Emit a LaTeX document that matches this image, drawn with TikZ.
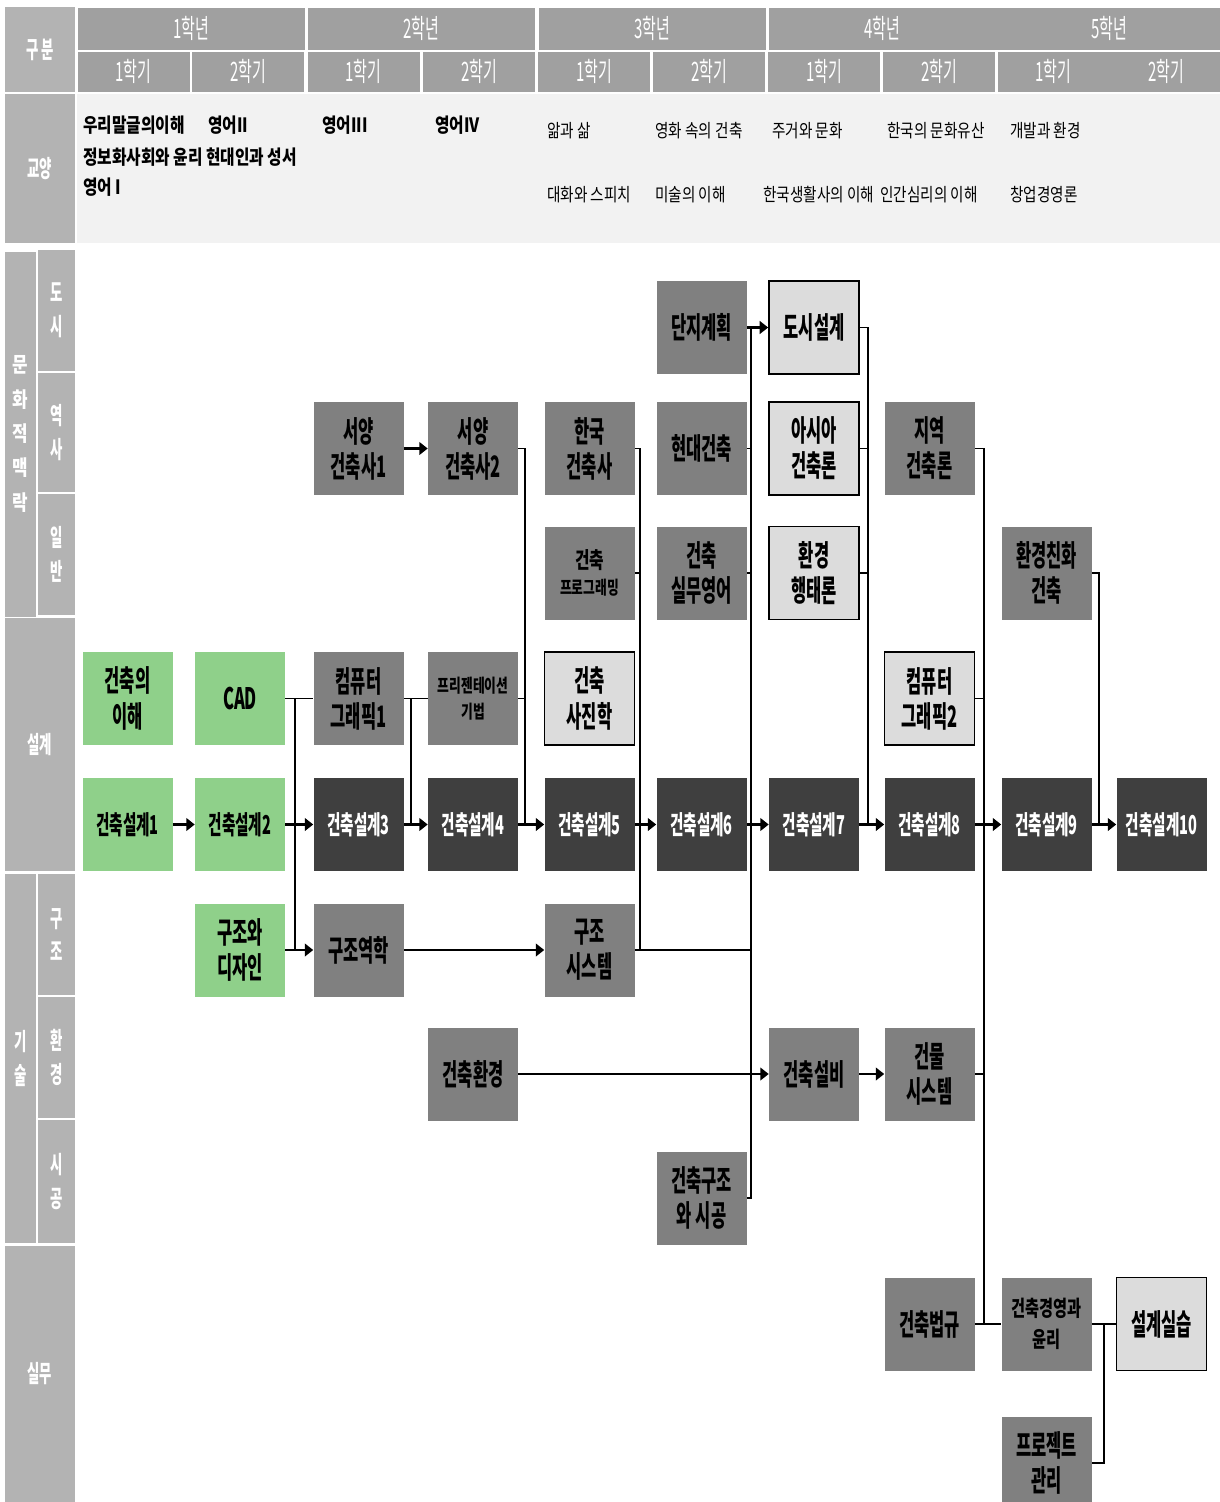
\documentclass[tikz,border=0pt]{standalone}
\usepackage{fontspec}
\newfontfamily\krbox{Noto Sans CJK KR}[FakeStretch=0.56]
\newfontfamily\krmid{Noto Sans CJK KR}[FakeStretch=0.7]
\newfontfamily\krtext{Noto Sans CJK KR}[FakeStretch=0.8]
\usepackage{tikz}
\usetikzlibrary{arrows.meta, positioning}
\newcommand{\pxu}{0.25mm}
\definecolor{boxmid}{HTML}{808080}
\definecolor{boxdark}{HTML}{3F3F3F}
\definecolor{boxlight}{HTML}{DCDCDC}
\definecolor{boxgreen}{HTML}{8FD08A}
\definecolor{headgray}{HTML}{A0A0A0}
\definecolor{sidegray}{HTML}{B3B3B3}
\definecolor{genbg}{HTML}{F2F2F2}
\tikzset{
	course/.style={
			shape=rectangle,
			minimum width=90*\pxu,
			minimum height=93*\pxu,
			inner sep=0pt,
			align=center,
			font=\fontsize{21}{25}\krbox\bfseries
		},
	midcourse/.style={
			course,
			fill=boxmid,
			text=black
		},
	darkcourse/.style={
			course,
			fill=boxdark,
			text=white,
			font=\fontsize{18.5}{22}\krbox\bfseries
		},
	lightcourse/.style={
			course,
			fill=boxlight,
			draw=black,
			line width=1.2pt
		},
	greencourse/.style={
			course,
			fill=boxgreen,
			text=black
		},
	designtext/.style={font=\fontsize{18.5}{22}\krbox\bfseries},
	smallcourse/.style={font=\fontsize{13}{18}\krmid\bfseries},
	mgmtcourse/.style={font=\fontsize{15.5}{22}\krmid\bfseries}
}
\tikzset{
	yearcell/.style={
			shape=rectangle,
			fill=headgray,
			text=white,
			minimum width=227*\pxu,
			minimum height=42*\pxu,
			inner sep=0pt,
			font=\fontsize{19}{22}\krbox
		},
	semcell/.style={
			yearcell,
			minimum width=112*\pxu,
			minimum height=40*\pxu
		},
	sidecell/.style={
			shape=rectangle,
			fill=sidegray,
			text=white,
			inner sep=0pt,
			align=center,
			font=\fontsize{17}{24}\krbox\bfseries
		},
	gentext/.style={
			anchor=west,
			inner sep=0pt,
			font=\fontsize{14}{16}\krtext\bfseries
		},
	gentextlight/.style={
			gentext,
			font=\fontsize{13}{15}\krtext
		},
	arrowline/.style={line width=1.6pt, -{Triangle[length=6pt,width=9pt]}},
	treeline/.style={line width=1.2pt}
}

\begin{document}
\begin{tikzpicture}[x=\pxu, y=-\pxu]
  \useasboundingbox (0,0) rectangle (1220,1502);

  % header
  \node[sidecell, minimum width=70*\pxu, minimum height=85*\pxu] (l0) at (40,49.5) {구 분};
  \node[yearcell] (yr1) at (191.5,28.5) {1학년};
  \node[yearcell] (yr2) at (421.5,28.5) {2학년};
  \node[yearcell] (yr3) at (652,28.5) {3학년};
  \node[yearcell] (yr4) at (882,28.5) {4학년};
  \node[yearcell] (yr5) at (1109,28.5) {5학년};
  \node[semcell] (se1) at (133.5,71.5) {1학기};
  \node[semcell] (se2) at (248,71.5) {2학기};
  \node[semcell] (se3) at (363.5,71.5) {1학기};
  \node[semcell] (se4) at (479,71.5) {2학기};
  \node[semcell] (se5) at (594,71.5) {1학기};
  \node[semcell] (se6) at (709,71.5) {2학기};
  \node[semcell] (se7) at (824,71.5) {1학기};
  \node[semcell] (se8) at (939,71.5) {2학기};
  \node[semcell] (se9) at (1053.5,71.5) {1학기};
  \node[semcell] (se10) at (1166,71.5) {2학기};

  % side labels
  \node[sidecell, minimum width=70*\pxu, minimum height=149*\pxu] (l1) at (40,168.5) {교양};
  \node[sidecell, minimum width=31*\pxu, minimum height=365*\pxu, font=\fontsize{15}{24.5}\krtext\bfseries] (l2) at (20.5,434) {문\\화\\적\\맥\\락};
  \node[sidecell, minimum width=37*\pxu, minimum height=121*\pxu] (l2a) at (56.5,310.5) {도\\시};
  \node[sidecell, minimum width=37*\pxu, minimum height=119*\pxu] (l2b) at (56.5,432.5) {역\\사};
  \node[sidecell, minimum width=37*\pxu, minimum height=121*\pxu] (l2c) at (56.5,554.5) {일\\반};
  \node[sidecell, minimum width=70*\pxu, minimum height=253*\pxu] (l3) at (40,744.5) {설계};
  \node[sidecell, minimum width=31*\pxu, minimum height=369*\pxu] (l4) at (20.5,1058.5) {기\\술};
  \node[sidecell, minimum width=37*\pxu, minimum height=121*\pxu] (l4a) at (56.5,934.5) {구\\조};
  \node[sidecell, minimum width=37*\pxu, minimum height=121*\pxu] (l4b) at (56.5,1057.5) {환\\경};
  \node[sidecell, minimum width=37*\pxu, minimum height=123*\pxu] (l4c) at (56.5,1181.5) {시\\공};
  \node[sidecell, minimum width=70*\pxu, minimum height=256*\pxu] (l5) at (40,1374) {실무};

  % general courses
  \fill[genbg] (77,94) rectangle (1220,243);
  \node[gentext] (g1) at (83,125) {우리말글의이해};
  \node[gentext] (g2) at (208,125) {영어II};
  \node[gentext] (g3) at (83,157) {정보화사회와 윤리 현대인과 성서};
  \node[gentext] (g4) at (83,187) {영어 I};
  \node[gentext] (g5) at (322,125) {영어III};
  \node[gentext] (g6) at (435,125) {영어IV};
  \node[gentextlight] (g7) at (547,131) {앎과 삶};
  \node[gentextlight] (g8) at (547,195) {대화와 스피치};
  \node[gentextlight] (g9) at (655,131) {영화 속의 건축};
  \node[gentextlight] (g10) at (655,195) {미술의 이해};
  \node[gentextlight] (g11) at (772,131) {주거와 문화};
  \node[gentextlight] (g12) at (763,195) {한국생활사의 이해};
  \node[gentextlight] (g13) at (887,131) {한국의 문화유산};
  \node[gentextlight] (g14) at (880,195) {인간심리의 이해};
  \node[gentextlight] (g15) at (1010,131) {개발과 환경};
  \node[gentextlight] (g16) at (1010,195) {창업경영론};

  % cultural context
  \node[midcourse] (dj) at (701.5,327.5) {단지계획};
  \node[lightcourse] (us) at (814,327.5) {도시설계};
  \node[midcourse] (wh1) at (358.5,448.5) {서양\\건축사1};
  \node[midcourse] (wh2) at (473,448.5) {서양\\건축사2};
  \node[midcourse] (kh) at (589.5,448.5) {한국\\건축사};
  \node[midcourse] (md) at (701.5,448.5) {현대건축};
  \node[lightcourse] (aa) at (814,448.5) {아시아\\건축론};
  \node[midcourse] (rg) at (929.5,448.5) {지역\\건축론};
  \node[midcourse, smallcourse] (pg) at (589.5,573) {{\fontsize{16}{20}\selectfont 건축}\\프로그래밍};
  \node[midcourse] (pe) at (701.5,573) {건축\\실무영어};
  \node[lightcourse] (eb) at (814,573) {환경\\행태론};
  \node[midcourse] (ec) at (1046.5,573) {환경친화\\건축};

  % design
  \node[greencourse] (ui) at (127.5,698.5) {건축의\\이해};
  \node[greencourse] (cad) at (240,698.5) {CAD};
  \node[midcourse] (cg1) at (358.5,698.5) {컴퓨터\\그래픽1};
  \node[midcourse, smallcourse] (pt) at (473,698.5) {프리젠테이션\\기법};
  \node[lightcourse] (ph) at (589.5,698.5) {건축\\사진학};
  \node[lightcourse] (cg2) at (929.5,698.5) {컴퓨터\\그래픽2};
  \node[greencourse, designtext] (d1) at (127.5,824.5) {건축설계1};
  \node[greencourse, designtext] (d2) at (240,824.5) {건축설계2};
  \node[darkcourse] (d3) at (358.5,824.5) {건축설계3};
  \node[darkcourse] (d4) at (473,824.5) {건축설계4};
  \node[darkcourse] (d5) at (589.5,824.5) {건축설계5};
  \node[darkcourse] (d6) at (701.5,824.5) {건축설계6};
  \node[darkcourse] (d7) at (814,824.5) {건축설계7};
  \node[darkcourse] (d8) at (929.5,824.5) {건축설계8};
  \node[darkcourse] (d9) at (1046.5,824.5) {건축설계9};
  \node[darkcourse] (d10) at (1161.5,824.5) {건축설계10};

  % technology
  \node[greencourse] (sd) at (240,950) {구조와\\디자인};
  \node[midcourse] (gm) at (358.5,950) {구조역학};
  \node[midcourse] (ss) at (589.5,950) {구조\\시스템};
  \node[midcourse] (en) at (473,1074) {건축환경};
  \node[midcourse] (eq) at (814,1074) {건축설비};
  \node[midcourse] (bsys) at (929.5,1074) {건물\\시스템};
  \node[midcourse] (cc) at (701.5,1198) {건축구조\\와 시공};

  % practice
  \node[midcourse] (law) at (929.5,1324) {건축법규};
  \node[midcourse, mgmtcourse] (mg) at (1046.5,1324) {건축경영과\\윤리};
  \node[lightcourse] (pr) at (1161.5,1324) {설계실습};
  \node[midcourse] (pm) at (1046.5,1463) {프로젝트\\관리};

  % junctions
  \coordinate (v2) at (295,0);
  \coordinate (v3) at (411,0);
  \coordinate (v4) at (525,0);
  \coordinate (v5) at (640,0);
  \coordinate (v6) at (751,0);
  \coordinate (v7) at (868,0);
  \coordinate (v8) at (984,0);
  \coordinate (v9) at (1099,0);
  \coordinate (vp) at (1104,0);

  % arrows
  \draw[arrowline] (wh1) -- (wh2);
  \draw[arrowline] (dj) -- (us);
  \draw[arrowline] (d1) -- (d2);
  \draw[arrowline] (d2) -- (d3);
  \draw[arrowline] (d3) -- (d4);
  \draw[arrowline] (d4) -- (d5);
  \draw[arrowline] (d5) -- (d6);
  \draw[arrowline] (d6) -- (d7);
  \draw[arrowline] (d7) -- (d8);
  \draw[arrowline] (d8) -- (d9);
  \draw[arrowline] (d9) -- (d10);
  \draw[arrowline] (sd) -- (gm);
  \draw[arrowline] (gm) -- (ss);
  \draw[arrowline] (en) -- (eq);
  \draw[arrowline] (eq) -- (bsys);

  % prerequisite lines
  \draw[treeline] (cad) -- (cg1);
  \draw[treeline] (v2 |- cad.east) -- (v2 |- sd.east);
  \draw[treeline] (cg1) -- (pt);
  \draw[treeline] (v3 |- cg1.east) -- (v3 |- d3.east);
  \draw[treeline] (wh2.east) -- (v4 |- wh2.east) -- (v4 |- d4.east);
  \draw[treeline] (pt.east) -- (v4 |- pt.east);
  \draw[treeline] (kh.east) -- (v5 |- kh.east) -- (v5 |- ss.east);
  \draw[treeline] (pg.east) -- (v5 |- pg.east);
  \draw[treeline] (ss.east) -- (v6 |- ss.east);
  \draw[treeline] (v6 |- dj.east) -- (v6 |- cc.east) -- (cc.east);
  \draw[treeline] (md.east) -- (v6 |- md.east);
  \draw[treeline] (pe.east) -- (v6 |- pe.east);
  \draw[treeline] (us.east) -- (v7 |- us.east) -- (v7 |- d7.east);
  \draw[treeline] (aa.east) -- (v7 |- aa.east);
  \draw[treeline] (eb.east) -- (v7 |- eb.east);
  \draw[treeline] (rg.east) -- (v8 |- rg.east) -- (v8 |- law.east);
  \draw[treeline] (cg2.east) -- (v8 |- cg2.east);
  \draw[treeline] (bsys.east) -- (v8 |- bsys.east);
  \draw[treeline] (law) -- (mg);
  \draw[treeline] (ec.east) -- (v9 |- ec.east) -- (v9 |- d9.east);
  \draw[treeline] (mg) -- (pr);
  \draw[treeline] (vp |- mg.east) -- (vp |- pm.east) -- (pm.east);

\end{tikzpicture}
\end{document}
